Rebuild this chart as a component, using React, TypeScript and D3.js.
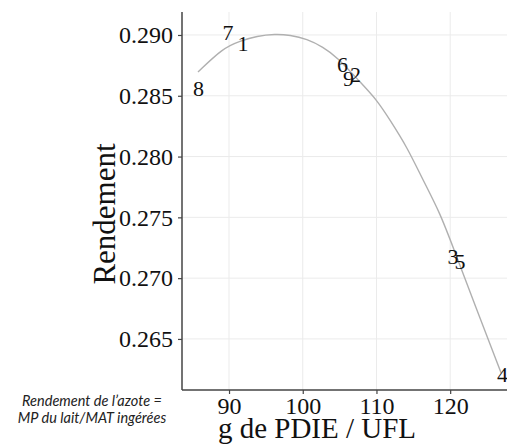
import React, { useEffect, useRef } from 'react';
import * as d3 from 'd3';

// animal / ration labels and their coordinates
const labels = ['1', '2', '3', '4', '5', '6', '7', '8', '9'];
const pdie = [91.89, 107.16, 120.38, 127.1, 121.33, 105.39, 89.86, 85.86, 106.2];
const rendement = [0.2893, 0.28671, 0.27182, 0.26207, 0.27133, 0.28757, 0.29024, 0.28556, 0.28642];

// smoothed fit
const fitX = [85.79, 89.18, 91.49, 93.8, 96.24, 98.27, 100.58, 102.75, 104.65, 107.77, 110.07, 111.83, 114.14, 116.31, 118.62, 120.38, 123.37, 126.9];
const fitY = [0.28695, 0.28893, 0.2895, 0.28992, 0.29008, 0.29, 0.28967, 0.28901, 0.28819, 0.28613, 0.28465, 0.28301, 0.28079, 0.27807, 0.27536, 0.27256, 0.26779, 0.26222];

const xTicks = [90, 100, 110, 120];
const yTicks = [0.265, 0.27, 0.275, 0.28, 0.285, 0.29];

const App = () => {
  const svgRef = useRef(null);
  const width = 507;
  const height = 446;

  useEffect(() => {
    const svg = d3.select(svgRef.current);
    svg.selectAll('*').remove();

    const left = 182, right = 518, top = 12, bottom = 390;
    const serif = '"Liberation Serif", "Times New Roman", serif';

    const x = d3.scaleLinear().domain([83.62, 129.2]).range([left, right]);
    const y = d3.scaleLinear().domain([0.2608, 0.29189]).range([bottom, top]);

    const grid = svg.append('g');
    grid.selectAll('line.v')
      .data(xTicks)
      .join('line')
      .attr('class', 'v')
      .attr('x1', d => x(d)).attr('x2', d => x(d))
      .attr('y1', top).attr('y2', bottom)
      .attr('stroke', '#ebebeb').attr('stroke-width', 1);
    grid.selectAll('line.h')
      .data(yTicks)
      .join('line')
      .attr('class', 'h')
      .attr('x1', left).attr('x2', right)
      .attr('y1', d => y(d)).attr('y2', d => y(d))
      .attr('stroke', '#ebebeb').attr('stroke-width', 1);

    const line = d3.line()
      .x((d, i) => x(fitX[i]))
      .y((d, i) => y(fitY[i]))
      .curve(d3.curveBasis);

    svg.append('path')
      .datum(fitX)
      .attr('fill', 'none')
      .attr('stroke', '#b0b0b0')
      .attr('stroke-width', 1.4)
      .attr('d', line);

    svg.append('g')
      .selectAll('text')
      .data(labels)
      .join('text')
      .attr('x', (d, i) => x(pdie[i]))
      .attr('y', (d, i) => y(rendement[i]))
      .attr('text-anchor', 'middle')
      .attr('dominant-baseline', 'central')
      .attr('font-family', serif)
      .attr('font-size', 22)
      .attr('fill', '#111')
      .text(d => d);

    // axes
    const yAxis = svg.append('g')
      .attr('transform', `translate(${left},0)`)
      .call(d3.axisLeft(y).tickValues(yTicks).tickFormat(d3.format('.3f')).tickSize(4).tickPadding(5));
    yAxis.attr('font-family', serif);
    yAxis.select('.domain').attr('stroke', '#444').attr('stroke-width', 1.5).attr('d', `M0,${top}V${bottom}`);
    yAxis.selectAll('.tick line').attr('stroke', '#444').attr('stroke-width', 1.2);
    yAxis.selectAll('.tick text')
      .attr('font-family', serif).attr('font-size', 24).attr('fill', '#111');

    const xAxis = svg.append('g')
      .attr('transform', `translate(0,${bottom})`)
      .call(d3.axisBottom(x).tickValues(xTicks).tickSize(4).tickPadding(3));
    xAxis.attr('font-family', serif);
    xAxis.select('.domain').attr('stroke', '#444').attr('stroke-width', 1.5).attr('d', `M${left},0H${right}`);
    xAxis.selectAll('.tick line').attr('stroke', '#444').attr('stroke-width', 1.2);
    xAxis.selectAll('.tick text')
      .attr('font-family', serif).attr('font-size', 24).attr('fill', '#111');

    svg.append('text')
      .attr('x', 317).attr('y', 438)
      .attr('text-anchor', 'middle')
      .attr('font-family', serif).attr('font-size', 29).attr('fill', '#111')
      .text('g de PDIE / UFL');

    svg.append('text')
      .attr('transform', 'translate(115,214) rotate(-90)')
      .attr('text-anchor', 'middle')
      .attr('font-family', serif).attr('font-size', 31).attr('fill', '#111')
      .text('Rendement');

    const note = svg.append('text')
      .attr('text-anchor', 'middle')
      .attr('font-family', 'Lato, "Open Sans", sans-serif')
      .attr('font-style', 'italic')
      .attr('font-size', 14.5)
      .attr('fill', '#222');
    note.append('tspan').attr('x', 92).attr('y', 406).text('Rendement de l’azote =');
    note.append('tspan').attr('x', 92).attr('y', 423).text('MP du lait/MAT ingérées');
  }, []);

  return (
    <svg
      ref={svgRef}
      width={width}
      height={height}
      style={{ position: 'absolute', left: 0, top: 0, background: '#fff' }}
    />
  );
};

export default App;
